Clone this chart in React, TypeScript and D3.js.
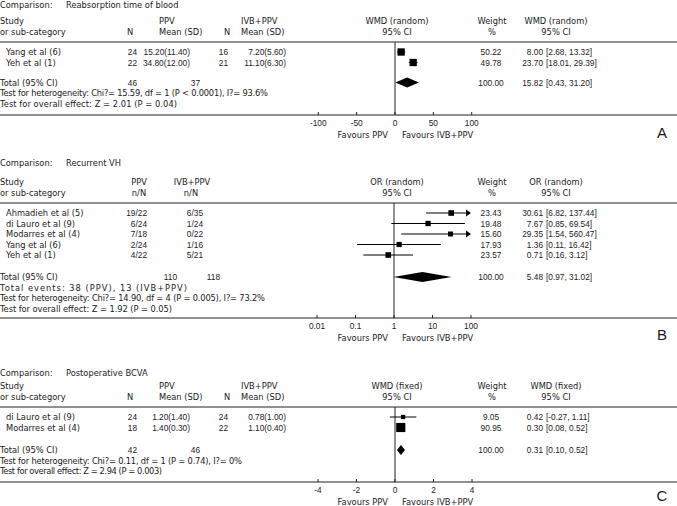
import React from "react";
import * as d3 from "d3";

// ---------- Panel A: Reabsorption time of blood (WMD random) ----------
const studiesA = ["Yang et al (6)", "Yeh et al (1)"];
const nPpvA = [24, 22];
const meanPpvA = [15.2, 34.8];
const sdPpvA = [11.4, 12.0];
const nIvbA = [16, 21];
const meanIvbA = [7.2, 11.1];
const sdIvbA = [5.6, 6.3];
const weightA = [50.22, 49.78];
const estA = [8.0, 23.7];
const loA = [2.68, 18.01];
const hiA = [13.32, 29.39];
const totalA = [15.82, 0.43, 31.2];
const ticksA = [-100, -50, 0, 50, 100];
const notesA = [
  "Test for heterogeneity: Chi?= 15.59, df = 1 (P < 0.0001), I?= 93.6%",
  "Test for overall effect: Z = 2.01 (P = 0.04)",
];

// ---------- Panel B: Recurrent VH (OR random) ----------
const studiesB = ["Ahmadieh et al (5)", "di Lauro et al (9)", "Modarres et al (4)", "Yang et al (6)", "Yeh et al (1)"];
const eventsPpvB = [19, 6, 7, 2, 4];
const nPpvB = [22, 24, 18, 24, 22];
const eventsIvbB = [6, 1, 0, 1, 5];
const nIvbB = [35, 24, 22, 16, 21];
const weightB = [23.43, 19.48, 15.6, 17.93, 23.57];
const estB = [30.61, 7.67, 29.35, 1.36, 0.71];
const loB = [6.82, 0.85, 1.54, 0.11, 0.16];
const hiB = [137.44, 69.54, 560.47, 16.42, 3.12];
const totalB = [5.48, 0.97, 31.02];
const ticksB = [0.01, 0.1, 1, 10, 100];
const notesB = [
  "Test for heterogeneity: Chi?= 14.90, df = 4 (P = 0.005), I?= 73.2%",
  "Test for overall effect: Z = 1.92 (P = 0.05)",
];

// ---------- Panel C: Postoperative BCVA (WMD fixed) ----------
const studiesC = ["di Lauro et al (9)", "Modarres et al (4)"];
const nPpvC = [24, 18];
const meanPpvC = [1.2, 1.4];
const sdPpvC = [1.4, 0.3];
const nIvbC = [24, 22];
const meanIvbC = [0.78, 1.1];
const sdIvbC = [1.0, 0.4];
const weightC = [9.05, 90.95];
const estC = [0.42, 0.3];
const loC = [-0.27, 0.08];
const hiC = [1.11, 0.52];
const totalC = [0.31, 0.1, 0.52];
const ticksC = [-4, -2, 0, 2, 4];
const notesC = [
  "Test for heterogeneity: Chi?= 0.11, df = 1 (P = 0.74), I?= 0%",
  "Test for overall effect: Z = 2.94 (P = 0.003)",
];

const FONT_T = "DejaVu Sans";
const FS_T = 8.3;
const FONT_N = "Liberation Sans";
const FS_N = 8.3;
const TXT = "#1a1a1a";
const LINE = "#222";
const W = 677;

const f2 = (v: number) => v.toFixed(2);

type Panel = {
  letter: string;
  comparison: string;
  measure: string;
  kind: "cont" | "bin";
  studies: string[];
  c1: string[]; c2: string[]; c3: string[]; c4: string[];
  tot1: number; tot2: number;
  weight: number[]; est: number[]; lo: number[]; hi: number[];
  total: number[];
  ticks: number[];
  notes: string[];
  noteW: number[];
  scale: any;
  compY: number; ruleY: number; axisY: number; totalY: number; letterY: number;
};

const sizeScale = d3.scaleSqrt().domain([0, 100]).range([2, 9.5]);

const panels: Panel[] = [
  {
    letter: "A", comparison: "Reabsorption time of blood", measure: "WMD (random)", kind: "cont",
    studies: studiesA,
    c1: nPpvA.map(String), c2: meanPpvA.map((m, i) => `${f2(m)}(${f2(sdPpvA[i])})`),
    c3: nIvbA.map(String), c4: meanIvbA.map((m, i) => `${f2(m)}(${f2(sdIvbA[i])})`),
    tot1: d3.sum(nPpvA), tot2: d3.sum(nIvbA),
    weight: weightA, est: estA, lo: loA, hi: hiA, total: totalA, ticks: ticksA, notes: notesA,
    noteW: [268, 177],
    scale: d3.scaleLinear().domain([-100, 100]).range([318.3, 471.7]),
    compY: 5, ruleY: 42, axisY: 115, totalY: 82.5, letterY: 132,
  },
  {
    letter: "B", comparison: "Recurrent VH", measure: "OR (random)", kind: "bin",
    studies: studiesB,
    c1: eventsPpvB.map((e, i) => `${e}/${nPpvB[i]}`), c2: [],
    c3: eventsIvbB.map((e, i) => `${e}/${nIvbB[i]}`), c4: [],
    tot1: d3.sum(nPpvB), tot2: d3.sum(nIvbB),
    weight: weightB, est: estB, lo: loB, hi: hiB, total: totalB, ticks: ticksB,
    notes: [`Total events: ${d3.sum(eventsPpvB)} (PPV), ${d3.sum(eventsIvbB)} (IVB+PPV)`, ...notesB],
    noteW: [187, 265, 172],
    scale: d3.scaleLog().domain([0.01, 100]).range([317, 471]),
    compY: 163, ruleY: 203, axisY: 318, totalY: 277, letterY: 334,
  },
  {
    letter: "C", comparison: "Postoperative BCVA", measure: "WMD (fixed)", kind: "cont",
    studies: studiesC,
    c1: nPpvC.map(String), c2: meanPpvC.map((m, i) => `${f2(m)}(${f2(sdPpvC[i])})`),
    c3: nIvbC.map(String), c4: meanIvbC.map((m, i) => `${f2(m)}(${f2(sdIvbC[i])})`),
    tot1: d3.sum(nPpvC), tot2: d3.sum(nIvbC),
    weight: weightC, est: estC, lo: loC, hi: hiC, total: totalC, ticks: ticksC, notes: notesC,
    noteW: [242, 162],
    scale: d3.scaleLinear().domain([-4, 4]).range([318, 472]),
    compY: 373, ruleY: 407, axisY: 482, totalY: 450, letterY: 495,
  },
];

function T(props: any) {
  const { x, y, anchor = "start", children, ...rest } = props;
  return (
    <text x={x} y={y} textAnchor={anchor} dominantBaseline="central" fontFamily={FONT_T}
      fontSize={FS_T} fill={TXT} {...rest}>{children}</text>
  );
}
function N(props: any) {
  const { x, y, anchor = "start", children, ...rest } = props;
  return (
    <text x={x} y={y} textAnchor={anchor} dominantBaseline="central" fontFamily={FONT_N}
      fontSize={FS_N} fill={TXT} {...rest}>{children}</text>
  );
}

function ForestPanel({ p }: { p: Panel }) {
  const x = p.scale;
  const [d0, d1] = x.domain();
  const zero = p.kind === "bin" ? 1 : 0;
  const x0 = x(zero);
  const rowStep = 10.5;
  const rowY = (i: number) => p.ruleY + 10 + i * rowStep;
  const h1 = p.ruleY - 21;
  const h2 = p.ruleY - 10;
  const cont = p.kind === "cont";
  const estX = 543;
  const ciX = 546;
  return (
    <g>
      <T x={0} y={p.compY}>Comparison:</T>
      <T x={66} y={p.compY}>{p.comparison}</T>
      <T x={0} y={h1}>Study</T>
      <T x={0} y={h2}>or sub-category</T>
      {cont ? (
        <>
          <T x={130} y={h2} anchor="middle">N</T>
          <T x={159} y={h1}>PPV</T>
          <T x={159} y={h2}>Mean (SD)</T>
          <T x={227} y={h2} anchor="middle">N</T>
          <T x={241} y={h1}>IVB+PPV</T>
          <T x={241} y={h2}>Mean (SD)</T>
        </>
      ) : (
        <>
          <T x={139} y={h1} anchor="middle">PPV</T>
          <T x={139} y={h2} anchor="middle">n/N</T>
          <T x={192} y={h1} anchor="middle">IVB+PPV</T>
          <T x={191} y={h2} anchor="middle">n/N</T>
        </>
      )}
      <T x={397} y={h1} anchor="middle">{p.measure}</T>
      <T x={397} y={h2} anchor="middle">95% CI</T>
      <T x={492} y={h1} anchor="middle">Weight</T>
      <T x={492} y={h2} anchor="middle">%</T>
      <T x={556} y={h1} anchor="middle">{p.measure}</T>
      <T x={556} y={h2} anchor="middle">95% CI</T>

      <line x1={0} x2={W} y1={p.ruleY} y2={p.ruleY} stroke={LINE} strokeWidth={1.2} />
      <line x1={x0} x2={x0} y1={p.ruleY} y2={p.axisY} stroke={LINE} strokeWidth={1} />

      {p.studies.map((s, i) => {
        const y = rowY(i);
        const lo = Math.max(p.lo[i], d0);
        const hiClipped = p.hi[i] > d1;
        const hi = Math.min(p.hi[i], d1);
        const sz = sizeScale(p.weight[i]);
        const xe = x(p.est[i]);
        return (
          <g key={s}>
            <T x={6} y={y}>{s}</T>
            {cont ? (
              <>
                <N x={137} y={y} anchor="end">{p.c1[i]}</N>
                <N x={190} y={y} anchor="end">{p.c2[i]}</N>
                <N x={228} y={y} anchor="end">{p.c3[i]}</N>
                <N x={286} y={y} anchor="end">{p.c4[i]}</N>
              </>
            ) : (
              <>
                <N x={147} y={y} anchor="end">{p.c1[i]}</N>
                <N x={203} y={y} anchor="end">{p.c3[i]}</N>
              </>
            )}
            <line x1={x(lo)} x2={hiClipped ? x(hi) - 4 : x(hi)} y1={y} y2={y} stroke="#000" strokeWidth={1} />
            {hiClipped && (
              <path d={`M${x(hi) - 5},${y - 3.5}L${x(hi)},${y}L${x(hi) - 5},${y + 3.5}Z`} fill="#000" />
            )}
            <rect x={xe - sz / 2} y={y - sz / 2} width={sz} height={sz} fill="#000" />
            <N x={491} y={y} anchor="middle">{f2(p.weight[i])}</N>
            <N x={estX} y={y} anchor="end">{f2(p.est[i])}</N>
            <N x={ciX} y={y}>{`[${f2(p.lo[i])}, ${f2(p.hi[i])}]`}</N>
          </g>
        );
      })}

      <T x={0} y={p.totalY}>Total (95% CI)</T>
      {cont ? (
        <>
          <N x={137} y={p.totalY} anchor="end">{p.tot1}</N>
          <N x={200} y={p.totalY} anchor="end">{p.tot2}</N>
        </>
      ) : (
        <>
          <N x={177} y={p.totalY} anchor="end">{p.tot1}</N>
          <N x={220} y={p.totalY} anchor="end">{p.tot2}</N>
        </>
      )}
      <path
        d={`M${x(p.total[1])},${p.totalY}L${x(p.total[0])},${p.totalY - 5}L${x(p.total[2])},${p.totalY}L${x(p.total[0])},${p.totalY + 5}Z`}
        fill="#000"
      />
      <N x={491} y={p.totalY} anchor="middle">100.00</N>
      <N x={estX} y={p.totalY} anchor="end">{f2(p.total[0])}</N>
      <N x={ciX} y={p.totalY}>{`[${f2(p.total[1])}, ${f2(p.total[2])}]`}</N>
      {p.notes.map((n, i) => (
        <T key={i} x={0} y={p.totalY + 10.5 * (i + 1)} textLength={p.noteW[i]} lengthAdjust="spacing">{n}</T>
      ))}

      <line x1={0} x2={W} y1={p.axisY} y2={p.axisY} stroke={LINE} strokeWidth={1.2} />
      {p.ticks.map((t) => (
        <g key={t}>
          <line x1={x(t)} x2={x(t)} y1={p.axisY - 3} y2={p.axisY} stroke={LINE} strokeWidth={1} />
          <N x={x(t)} y={p.axisY + 7.5} anchor="middle">{String(t)}</N>
        </g>
      ))}
      <T x={388} y={p.axisY + 20} anchor="end">Favours PPV</T>
      <T x={402} y={p.axisY + 20}>Favours IVB+PPV</T>
      <text x={662} y={p.letterY} textAnchor="middle" dominantBaseline="central"
        fontFamily="Liberation Sans" fontSize={15} fill={TXT}>{p.letter}</text>
    </g>
  );
}

export default function App() {
  return (
    <svg width={W} height={506} style={{ position: "absolute", left: 0, top: 0, background: "#fff" }}>
      <rect width={W} height={506} fill="#fff" />
      {panels.map((p) => (
        <ForestPanel key={p.letter} p={p} />
      ))}
    </svg>
  );
}
